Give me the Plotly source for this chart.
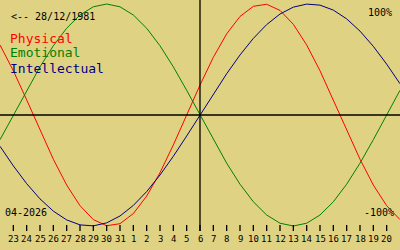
import plotly.graph_objects as go

# Day offsets relative to the reference day (06-04-2026)
days = list(range(-15, 16))
# Day-of-month tick labels for offsets -14..14
tick_offsets = list(range(-14, 15))
tick_labels = ["23", "24", "25", "26", "27", "28", "29", "30", "31",
               "1", "2", "3", "4", "5", "6", "7", "8", "9", "10",
               "11", "12", "13", "14", "15", "16", "17", "18", "19", "20"]

physical = [0.6310, 0.3984, 0.1362, -0.1362, -0.3984, -0.6310, -0.8170, -0.9423,
            -0.9977, -0.9791, -0.8879, -0.7308, -0.5196, -0.2698, 0.0, 0.2698,
            0.5196, 0.7308, 0.8879, 0.9791, 0.9977, 0.9423, 0.8170, 0.6310,
            0.3984, 0.1362, -0.1362, -0.3984, -0.6310, -0.8170, -0.9423]
emotional = [-0.2225, 0.0, 0.2225, 0.4339, 0.6235, 0.7818, 0.9010, 0.9749,
             1.0, 0.9749, 0.9010, 0.7818, 0.6235, 0.4339, 0.2225, 0.0,
             -0.2225, -0.4339, -0.6235, -0.7818, -0.9010, -0.9749, -1.0, -0.9749,
             -0.9010, -0.7818, -0.6235, -0.4339, -0.2225, 0.0, 0.2225]
intellectual = [-0.2817, -0.4582, -0.6182, -0.7557, -0.8660, -0.9450, -0.9898, -0.9989,
                -0.9718, -0.9096, -0.8146, -0.6901, -0.5406, -0.3717, -0.1893, 0.0,
                0.1893, 0.3717, 0.5406, 0.6901, 0.8146, 0.9096, 0.9718, 0.9989,
                0.9898, 0.9450, 0.8660, 0.7557, 0.6182, 0.4582, 0.2817]

series_names = ["Physical", "Emotional", "Intellectual"]
series_colors = ["#ff0000", "#008000", "#000080"]
birth_label = "<-- 28/12/1981"
month_label = "04-2026"

W, H = 400, 250
BG = "#e0d283"
FONT = "DejaVu Sans Mono"

def py(px):
    return 1 - px / H

fig = go.Figure()
for name, vals, col in zip(series_names, [physical, emotional, intellectual], series_colors):
    fig.add_trace(go.Scatter(x=days, y=vals, mode="lines", name=name,
                             line=dict(color=col, width=1), showlegend=False,
                             hoverinfo="skip"))

shapes = []
# horizontal zero line
shapes.append(dict(type="line", xref="paper", yref="y", x0=0, x1=1, y0=0, y1=0,
                   line=dict(color="black", width=1.3)))
# vertical today line
shapes.append(dict(type="line", xref="x", yref="paper", x0=0, x1=0, y0=py(231), y1=1,
                   line=dict(color="black", width=1.3)))
annotations = []
for off, lab in zip(tick_offsets, tick_labels):
    shapes.append(dict(type="line", xref="x", yref="paper", x0=off, x1=off,
                       y0=py(231), y1=py(225), line=dict(color="black", width=1.3)))
    annotations.append(dict(x=off, y=py(238.5), xref="x", yref="paper", text=lab,
                            showarrow=False, xanchor="center", yanchor="middle",
                            font=dict(family=FONT, size=9, color="black")))

annotations.append(dict(x=9 / W, y=py(16), xref="paper", yref="paper", text=birth_label,
                        showarrow=False, xanchor="left", yanchor="middle",
                        font=dict(family=FONT, size=10, color="black")))
for k, (name, col) in enumerate(zip(series_names, series_colors)):
    annotations.append(dict(x=8 / W, y=py(38 + 15 * k), xref="paper", yref="paper", text=name,
                            showarrow=False, xanchor="left", yanchor="middle",
                            font=dict(family=FONT, size=13, color=col)))
annotations.append(dict(x=394 / W, y=py(12), xref="paper", yref="paper", text="100%",
                        showarrow=False, xanchor="right", yanchor="middle",
                        font=dict(family=FONT, size=10, color="black")))
annotations.append(dict(x=396 / W, y=py(212), xref="paper", yref="paper", text="-100%",
                        showarrow=False, xanchor="right", yanchor="middle",
                        font=dict(family=FONT, size=10, color="black")))
annotations.append(dict(x=3 / W, y=py(212), xref="paper", yref="paper", text=month_label,
                        showarrow=False, xanchor="left", yanchor="middle",
                        font=dict(family=FONT, size=10, color="black")))

fig.update_layout(
    width=W, height=H,
    margin=dict(l=0, r=0, t=0, b=0),
    paper_bgcolor=BG, plot_bgcolor=BG,
    xaxis=dict(range=[-15, 15], visible=False, fixedrange=True),
    yaxis=dict(range=[(115 - 250) / 111, 115 / 111], visible=False, fixedrange=True),
    shapes=shapes, annotations=annotations, showlegend=False,
)
fig.write_html("out.html", config={"displayModeBar": False})
